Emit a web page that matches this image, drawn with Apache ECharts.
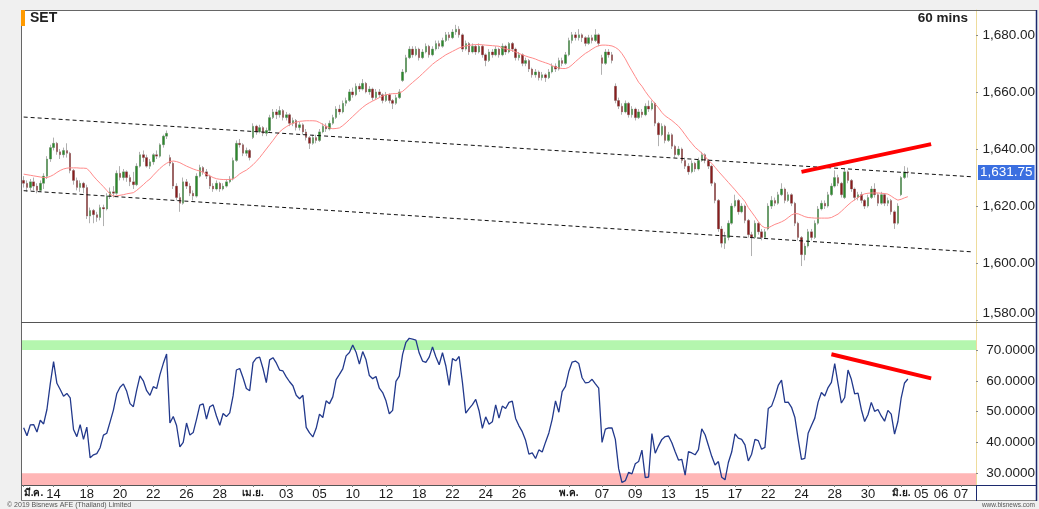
<!DOCTYPE html>
<html><head><meta charset="utf-8">
<script src="https://cdn.jsdelivr.net/npm/echarts@6/dist/echarts.min.js"></script>
<style>html,body{margin:0;padding:0;background:#f0f0f0;}#c{width:1039px;height:509px;}</style>
</head><body><div id="c"></div>
<script>
// trading days: [label, hourly bar slots, label shown]
const tradingDays = [
['มี.ค.',4,1],['13',5,0],['14',5,1],['15',5,0],['18',5,1],['19',5,0],['20',5,1],['21',5,0],['22',5,1],['25',5,0],['26',5,1],['27',5,0],['28',5,1],['29',5,0],
['เม.ย.',5,1],['02',5,0],['03',5,1],['04',5,0],['05',5,1],['09',5,0],['10',5,1],['11',5,0],['12',5,1],['17',5,0],['18',5,1],['19',5,0],['22',5,1],['23',5,0],['24',5,1],['25',5,0],['26',5,1],['29',5,0],['30',5,0],
['พ.ค.',5,1],['03',5,0],['07',5,1],['08',5,0],['09',5,1],['10',5,0],['13',5,1],['14',5,0],['15',5,1],['16',5,0],['17',5,1],['21',5,0],['22',5,1],['23',5,0],['24',5,1],['27',5,0],['28',5,1],['29',5,0],['30',5,1],['31',5,0],
['มิ.ย.',6,1],['05',6,1],['06',6,1],['07',5,1]
];
// [open, close, low, high]
const candles = [
[1629,1628,1626.5,1630.5],[1628,1626.5,1625,1629],[1626.5,1628.5,1625.5,1629.5],[1628.5,1627,1625.5,1630],[1627,1625.5,1624.5,1628],[1625.5,1628,1625,1629],[1628,1630.5,1626,1631.5],[1630.5,1636.5,1629.5,1637.5],[1636.5,1640.5,1635.5,1641.5],[1640.5,1642,1639.5,1644],
[1642,1639,1638,1642.5],[1639,1638,1636.5,1640],[1638,1639.5,1637,1640.5],[1639.5,1638.5,1637,1642],[1638.5,1632.5,1631.5,1639],[1632.5,1629,1627.5,1633],[1629,1626.5,1625.5,1630],[1626.5,1628,1625,1629],[1628,1626.5,1624.5,1628.5],[1626.5,1616.5,1615.5,1627.5],
[1616.5,1618.5,1614,1619.5],[1618.5,1617,1614,1619],[1617,1616,1614.5,1618],[1616,1619.5,1615,1620.5],[1619.5,1619,1613,1620.5],[1619,1623.5,1618.5,1624.5],[1623.5,1625,1622.5,1626.5],[1625,1624.5,1623,1627],[1624.5,1631.5,1624,1632.5],[1631.5,1630,1629,1634],
[1630,1632,1629,1633],[1632,1630,1628.5,1632.5],[1630,1628.5,1627,1631],[1628.5,1627.5,1626,1632],[1627.5,1634,1627,1635],[1634,1638,1633.5,1639],[1638,1637,1635.5,1639.5],[1637,1634,1633.5,1638],[1634,1635.5,1633,1636.5],[1635.5,1638,1634.5,1638.5],
[1638,1637.5,1636.5,1639.5],[1637.5,1641.5,1637,1642],[1641.5,1644.5,1640.5,1645],[1644.5,1645.5,1643.5,1646.5],[1637,1635,1634,1638],[1635,1627,1626,1635.5],[1627,1623,1622,1628],[1623,1621,1618,1624.5],[1621,1628.5,1620.5,1630],[1628.5,1627,1626,1629.5],
[1627,1624.5,1623.5,1628],[1624.5,1623.5,1622,1625.5],[1623.5,1630.5,1623,1631.5],[1630.5,1633.5,1630,1634.5],[1633.5,1632,1631,1634],[1632,1630.5,1629.5,1633],[1630.5,1627,1626,1631],[1627,1626,1625,1628],[1626,1628,1625.5,1629],[1628,1626,1625,1628.5],
[1626,1627,1625.5,1628],[1627,1628.5,1626.5,1629.5],[1628.5,1629.5,1628,1630.5],[1629.5,1636,1629,1637],[1636,1642,1635.5,1643],[1642,1641.5,1640.5,1643.5],[1641.5,1638.5,1637.5,1642],[1638.5,1639.5,1637.5,1640.5],[1639.5,1637,1636,1640],[1644,1648,1643.5,1649],
[1648,1646,1645,1648.5],[1646,1647.5,1645.5,1648.5],[1647.5,1645.5,1644.5,1648],[1645.5,1646.5,1644.5,1647.5],[1646.5,1651,1646,1652],[1651,1653,1650.5,1654],[1653,1652,1650.5,1654],[1652,1653.5,1651,1655],[1653.5,1651,1650,1654],[1651,1652,1650,1653],
[1652,1649,1648,1652.5],[1649,1650,1648,1651],[1650,1647.5,1646.5,1650.5],[1647.5,1648.5,1646.5,1649.5],[1648.5,1646,1645,1649],[1646,1644,1643,1647],[1644,1642,1640,1644.5],[1642,1644,1641.5,1645],[1644,1643,1642,1645],[1643,1646,1642.5,1647],
[1646,1648,1645.5,1649],[1648,1647,1646,1649],[1647,1649,1646.5,1650],[1649,1651,1648.5,1652],[1651,1654,1650.5,1655],[1654,1653,1652,1655.5],[1653,1656,1652.5,1657],[1656,1657,1655,1658],[1657,1660,1656.5,1661],[1660,1659,1658,1661.5],
[1659,1662,1658.5,1663],[1662,1661,1660,1663],[1661,1663,1660.5,1664.5],[1663,1660,1659.5,1663.5],[1660,1661,1659,1662],[1661,1658,1657,1661.5],[1658,1660,1657.5,1661],[1660,1659,1658,1661],[1659,1657,1656,1659.5],[1657,1659,1656.5,1660],
[1659,1657,1656,1659.5],[1657,1656,1654,1657.5],[1656,1658,1655.5,1659],[1658,1660,1657.5,1661],[1664,1667,1663.5,1668],[1667,1672,1666.5,1673],[1672,1675,1671.5,1676],[1675,1673,1672,1676],[1673,1675,1672.5,1676],[1675,1672,1671,1675.5],
[1672,1674,1671.5,1675],[1674,1676,1673.5,1677],[1676,1673,1672,1676.5],[1673,1675,1672.5,1676],[1675,1677,1674.5,1678],[1677,1676,1675,1678],[1676,1678,1675.5,1679],[1678,1680,1677.5,1681],[1680,1679,1678,1681],[1679,1681,1678.5,1682],
[1681,1682,1680,1683.5],[1682,1680,1679,1683],[1680,1675,1674,1680.5],[1675,1677,1674.5,1678],[1677,1674,1673,1677.5],[1674,1676,1673.5,1677],[1676,1674,1673,1676.5],[1674,1676,1673.5,1677],[1676,1673,1672,1676.5],[1673,1671,1669,1673.5],
[1671,1674,1670.5,1675],[1674,1673,1672,1675],[1673,1675,1672.5,1676],[1675,1673,1672,1675.5],[1673,1676,1672.5,1677],[1676,1674,1673,1676.5],[1674,1677,1673.5,1677.5],[1677,1675,1674,1677.5],[1675,1672,1671,1675.5],[1672,1673,1671,1674],
[1673,1670,1669,1673.5],[1670,1671,1669,1672],[1671,1668,1667,1671.5],[1668,1666,1665,1668.5],[1666,1667,1665,1668],[1667,1665,1664,1667.5],[1665,1666,1664,1667],[1666,1665,1663.5,1666.5],[1665,1667,1664.5,1668],[1667,1669,1666.5,1670],
[1669,1668,1667,1670],[1668,1671,1667.5,1672],[1671,1670,1669,1672],[1670,1673,1669.5,1674],[1673,1678,1672.5,1679],[1678,1680,1677,1681],[1680,1679,1678,1681],[1679,1680,1678,1682],[1680,1679,1677.5,1680.5],[1679,1677,1676,1679.5],
[1677,1679,1676.5,1680],[1679,1678,1677,1680],[1678,1680,1677.5,1682],[1680,1677,1676,1680.5],[1672,1670,1666,1673],[1670,1674,1669.5,1675],[1674,1673,1672,1675],[1673,1671,1670,1674],[1662,1657,1656,1663],[1657,1655,1654,1658],
[1655,1653,1652,1656],[1653,1656,1652.5,1657],[1656,1652,1651,1656.5],[1652,1654,1651,1655],[1654,1651,1650,1654.5],[1651,1653,1650.5,1654],[1653,1652,1651,1654],[1652,1655,1651.5,1656],[1655,1654,1653,1657],[1654,1656,1653.5,1657],
[1656,1649,1648,1656.5],[1649,1645,1641,1649.5],[1645,1648,1644.5,1649],[1648,1643,1642,1648.5],[1643,1645,1642.5,1646],[1645,1641,1640,1645.5],[1641,1638,1637,1641.5],[1638,1640,1637.5,1641],[1640,1636,1635,1640.5],[1636,1634,1633,1637],
[1634,1632,1631,1635],[1632,1635,1631.5,1636],[1635,1633,1632,1635.5],[1633,1636,1632.5,1637],[1636,1638,1635.5,1639],[1638,1636,1635,1638.5],[1636,1634,1633,1636.5],[1634,1628,1627,1634.5],[1628,1622,1621,1628.5],[1622,1612,1611,1622.5],
[1612,1607,1605.5,1613],[1607,1609,1605,1611],[1609,1614,1608,1615],[1614,1620,1613.5,1621],[1620,1622,1619.5,1624],[1622,1618,1617,1622.5],[1618,1620,1617.5,1621],[1620,1615,1614,1620.5],[1615,1610,1609,1615.5],[1610,1609,1602.5,1611],
[1609,1614,1608.5,1615],[1614,1611,1610,1614.5],[1611,1609,1608,1612],[1609,1611,1608.5,1612],[1612,1620,1611.5,1621],[1620,1622,1619,1623.5],[1622,1621,1620,1623],[1621,1624,1620.5,1625],[1624,1626,1623.5,1628],[1626,1622,1621,1626.5],
[1622,1624,1621.5,1625],[1624,1621,1620,1624.5],[1621,1614,1613,1621.5],[1614,1609,1608,1614.5],[1609,1603,1599,1609.5],[1603,1606,1601,1607],[1606,1611,1605.5,1612],[1611,1609,1608,1612],[1609,1614,1608.5,1615],[1614,1619,1613.5,1620],
[1619,1621,1618.5,1622],[1621,1620,1619,1622],[1620,1624,1619.5,1625],[1624,1627,1623.5,1628],[1627,1630,1626.5,1632.5],[1630,1628,1627,1631],[1628,1624,1623,1628.5],[1623,1632,1622.5,1633],[1632,1629,1628,1632.5],[1629,1626,1625,1629.5],
[1626,1623,1622,1626.5],[1623,1624,1622,1625],[1624,1622,1621,1625],[1622,1620,1619,1622.5],[1620,1623,1619.5,1624],[1623,1626,1622.5,1627],[1626,1624,1623,1628],[1624,1621,1620,1624.5],[1621,1624,1620.5,1625],[1624,1621,1620,1624.5],
[1621,1622,1620,1623],[1622,1618,1617,1622.5],[1618,1614,1612,1618.5],[1614,1620,1613.5,1621],[1624,1630,1623.5,1630.5],[1630,1632,1629.5,1634],[1632,1631.75,1630,1633.5]
];
const maValues = [
1631.2,1631.0,1630.8,1630.6,1630.4,1630.2,1630.0,1630.0,1630.4,1631.0,
1631.8,1632.5,1633.0,1633.3,1633.4,1633.4,1633.4,1633.3,1633.3,1633.2,
1632.0,1630.5,1629.2,1628.0,1626.8,1625.5,1624.2,1623.5,1623.6,1623.8,
1624.0,1624.3,1624.5,1624.7,1625.5,1626.5,1627.5,1628.6,1629.5,1630.8,
1632.0,1633.2,1634.2,1635.0,1635.6,1635.8,1635.6,1635.2,1634.6,1634.0,
1633.5,1633.0,1632.6,1632.3,1631.8,1631.2,1630.6,1630.0,1629.6,1629.4,
1629.3,1629.3,1629.3,1629.5,1630.3,1631.3,1632.0,1632.6,1633.5,1634.5,
1635.7,1637.0,1638.5,1640.0,1641.5,1643.0,1644.6,1646.0,1647.0,1647.8,
1648.5,1649.0,1649.4,1649.7,1649.8,1649.9,1649.9,1649.9,1649.8,1649.3,
1648.6,1648.0,1647.4,1647.1,1647.2,1647.4,1648.2,1649.2,1650.3,1651.4,
1652.5,1653.6,1654.6,1655.5,1656.2,1656.8,1657.4,1658.0,1658.6,1659.0,
1659.2,1659.4,1659.4,1659.6,1660.2,1661.2,1662.3,1663.3,1664.3,1665.3,
1666.4,1667.5,1668.6,1669.7,1670.6,1671.4,1672.2,1673.0,1673.6,1674.2,
1674.8,1675.4,1675.8,1676.1,1676.3,1676.5,1676.6,1676.6,1676.5,1676.4,
1676.3,1676.2,1676.1,1676.0,1675.4,1675.1,1674.8,1674.5,1674.0,1673.5,
1673.0,1672.6,1672.2,1671.9,1671.5,1671.0,1670.6,1670.2,1669.8,1669.2,
1668.7,1668.4,1668.2,1668.2,1668.6,1669.5,1670.6,1671.6,1672.6,1673.5,
1674.2,1675.0,1675.7,1676.2,1676.4,1676.4,1676.3,1676.1,1675.6,1674.8,
1673.4,1671.6,1669.4,1667.4,1665.4,1663.4,1662.0,1660.2,1658.6,1657.2,
1655.8,1654.4,1652.8,1651.6,1650.8,1650.0,1649.0,1648.0,1646.6,1645.0,
1643.4,1642.0,1640.6,1639.6,1638.6,1637.4,1636.0,1635.0,1633.6,1632.2,
1630.9,1629.6,1628.3,1627.0,1625.7,1624.3,1623.0,1621.6,1619.5,1617.9,
1616.3,1614.6,1613.1,1612.4,1612.4,1613.0,1613.6,1614.0,1614.5,1615.1,
1616.0,1616.9,1617.4,1617.3,1616.8,1616.3,1616.0,1615.9,1615.8,1615.8,
1615.8,1615.8,1615.8,1616.0,1616.6,1617.2,1618.2,1619.3,1620.4,1621.4,
1622.2,1623.0,1623.8,1624.3,1624.5,1624.6,1624.6,1624.6,1624.5,1624.4,
1624.2,1623.5,1622.7,1622.1,1622.4,1622.9,1623.3
];
const rsiValues = [
44.8,42.2,45.7,45.8,43.4,47.2,46.0,50.7,59,66.2,
59.2,57.2,55,55.9,54.5,44.2,41.9,45.8,41,45,
35,36,36.4,38.3,42.4,43,46.7,50.5,55.8,57.9,
59,56.6,52.6,51.6,57,61.6,60,56.8,55.3,58.1,
57.5,62,65.6,68.7,46.3,48.4,45.5,38.6,40,46.3,
42.4,43.2,47.5,52.1,52.5,47.6,51.6,52.2,48.6,45.6,
49.4,48.4,49.6,55.1,63.5,64,61,57.5,56.8,65.9,
67.4,67.7,64,59.4,66.8,67.5,65.8,63.5,63.2,61.3,
59.7,58.4,55.3,54.2,55.3,44.9,43.1,41.8,44.6,49.2,
48.1,53.5,52.6,54.8,60.4,62.1,63.9,68.1,69.2,71.6,
69.3,65.4,69.5,66.8,61.7,60.7,61.4,57.6,56.2,53.5,
49.3,50.4,59.8,61.5,68.6,72.5,73.8,73.5,73.2,69,
66.4,66,67.7,71,67.8,65.2,69.1,64.9,58.5,67.2,
66.5,67.9,59.5,49.5,51,52.3,54,50.3,44.6,48.3,
45.9,46.7,52.2,47.9,51.8,51,53,53.4,47.8,45.4,
43.5,40.7,36.2,36.6,34.8,37.6,36.9,40.1,43.1,47.5,
53.5,49.8,56.5,58.2,63,66.1,66.4,65.6,61,59.3,
59.5,60.5,59,57.6,40,44.3,44.7,44.7,41,31.5,
27,27.6,30.3,29.8,33.1,33.8,37.5,28.6,28.8,42.9,
36.5,38.9,41,41.9,42.1,39.9,37,34.3,34.5,29.4,
37,36.6,36,37.7,44.4,42.5,39,35.5,32.7,33.8,
28.7,27.9,33.5,36.9,42.8,41.4,41,39.2,34,36.2,
41,40.6,37.8,38.4,51,51.8,54.8,58.5,60.2,53,
53.1,51.4,48.2,41.1,34.5,34.8,43,45.5,47.9,53.1,
56.2,55.1,57.8,59.5,65.6,59,52.8,54.6,63.5,60.5,
55.8,56,50.7,46.8,49,53,50.1,50.7,48.6,46.9,
50.4,49.2,42.7,46.8,54.5,59.3,60.6
];
const priceTicks = [1580,1600,1620,1640,1660,1680];
const rsiTicks = [30,40,50,60,70];
const priceRange = [1579.4,1688.7];
const rsiRange = [26.2,78.76];
const channelUpper = [[0,1651.2],[285,1630.3]];
const channelLower = [[0,1625.4],[285,1604.0]];
const priceTrend = [[234,1632.0],[273,1641.7]];
const rsiTrend = [[243,68.6],[273,60.8]];
const rsiBands = [[70,73.2],[26.2,30]];

const FONT = '"Liberation Sans", Arial, "Noto Sans", sans-serif';
const cats = [], catLabel = [], catShow = [];
tradingDays.forEach(([lab, n, show], d) => {
  for (let b = 0; b < n; b++) { cats.push(d + '_' + b); catLabel.push(b === 0 ? lab : ''); catShow.push(b === 0 && show === 1); }
});
const isThai = s => /[\u0E00-\u0E7F]/.test(s);
const fmt2 = v => v.toLocaleString('en-US', {minimumFractionDigits: 2, maximumFractionDigits: 2});
const lastClose = candles[candles.length - 1][1];

const chart = echarts.init(document.getElementById('c'), null, {renderer: 'canvas', width: 1039, height: 509});
const dashed = {type: [4, 3], color: '#111', width: 1};
const option = {
  animation: false,
  backgroundColor: '#f0f0f0',
  textStyle: {fontFamily: FONT},
  title: [
    {text: 'SET', left: 30, top: 11, padding: 0, textStyle: {fontSize: 14, fontWeight: 'bold', color: '#222', fontFamily: FONT}},
    {text: '60 mins', right: 71, top: 11, padding: 0, textStyle: {fontSize: 13.5, fontWeight: 'bold', color: '#222', fontFamily: FONT}},
    {text: '© 2019 Bisnews AFE (Thailand) Limited', left: 7, top: 502, padding: 0, textStyle: {fontSize: 7, fontWeight: 'normal', color: '#555', fontFamily: FONT}},
    {text: 'www.bisnews.com', right: 4, top: 502, padding: 0, textStyle: {fontSize: 6.5, fontWeight: 'normal', color: '#555', fontFamily: FONT}}
  ],
  grid: [
    {left: 22, top: 10, width: 954, height: 312},
    {left: 22, top: 323, width: 954, height: 162}
  ],
  xAxis: [
    {type: 'category', gridIndex: 0, data: cats, boundaryGap: true, axisLine: {show: false}, axisTick: {show: false}, axisLabel: {show: false}, splitLine: {show: false}},
    {type: 'category', gridIndex: 1, data: cats, boundaryGap: true,
      axisLine: {show: true, lineStyle: {color: '#555'}},
      axisTick: {show: true, alignWithLabel: true, interval: (i) => catShow[i], length: 2, lineStyle: {color: '#777'}},
      axisLabel: {interval: (i) => catShow[i],
        formatter: (v, i) => isThai(catLabel[i]) ? '{th|' + catLabel[i] + '}' : catLabel[i],
        rich: {th: {fontSize: 10, fontWeight: 'bold', color: '#1a1a1a', fontFamily: FONT}},
        fontSize: 13, color: '#1a1a1a', margin: 3,
        showMinLabel: true, showMaxLabel: true, alignMinLabel: 'left', hideOverlap: false, fontFamily: FONT},
      splitLine: {show: false}}
  ],
  yAxis: [
    {type: 'value', gridIndex: 0, position: 'right', min: priceRange[0], max: priceRange[1], splitLine: {show: false},
      axisLine: {show: true, lineStyle: {color: '#eedc9c'}},
      axisTick: {show: true, length: 2, lineStyle: {color: '#888'}, customValues: priceTicks},
      axisLabel: {customValues: priceTicks, formatter: fmt2, align: 'right', margin: 59, fontSize: 13.5, color: '#222', verticalAlignMinLabel: 'bottom', fontFamily: FONT}},
    {type: 'value', gridIndex: 1, position: 'right', min: rsiRange[0], max: rsiRange[1], splitLine: {show: false},
      axisLine: {show: true, lineStyle: {color: '#eedc9c'}},
      axisTick: {show: true, length: 2, lineStyle: {color: '#888'}, customValues: rsiTicks},
      axisLabel: {customValues: rsiTicks, formatter: v => v.toFixed(4), align: 'right', margin: 59, fontSize: 13.5, color: '#222', fontFamily: FONT}}
  ],
  graphic: [
    {type: 'rect', z: -10, shape: {x: 21, y: 10, width: 1016, height: 491}, style: {fill: '#fff'}},
    {type: 'line', z: 10, shape: {x1: 21, y1: 10.5, x2: 1037, y2: 10.5}, style: {stroke: '#666', lineWidth: 1}},
    {type: 'line', z: 10, shape: {x1: 21.5, y1: 10, x2: 21.5, y2: 501}, style: {stroke: '#666', lineWidth: 1}},
    {type: 'line', z: 10, shape: {x1: 21, y1: 322.5, x2: 1037, y2: 322.5}, style: {stroke: '#555', lineWidth: 1}},
    {type: 'line', z: 10, shape: {x1: 21, y1: 500.5, x2: 1037, y2: 500.5}, style: {stroke: '#888', lineWidth: 1}},
    {type: 'line', z: 10, shape: {x1: 1036.5, y1: 10, x2: 1036.5, y2: 501}, style: {stroke: '#1c2a6e', lineWidth: 1.5}},
    {type: 'line', z: 10, shape: {x1: 976.5, y1: 485, x2: 976.5, y2: 501}, style: {stroke: '#1c2a6e', lineWidth: 1}},
    {type: 'line', z: 10, shape: {x1: 976, y1: 485.5, x2: 1037, y2: 485.5}, style: {stroke: '#1c2a6e', lineWidth: 1}},
    {type: 'rect', z: 11, shape: {x: 21, y: 10, width: 4, height: 16}, style: {fill: '#ff9a00'}}
  ],
  series: [
    {type: 'candlestick', name: 'shadow', xAxisIndex: 0, yAxisIndex: 0, data: candles, barWidth: 2, z: 2,
      itemStyle: {color: '#b0b0b0', color0: '#b0b0b0', borderColor: '#b0b0b0', borderColor0: '#b0b0b0', borderWidth: 1}},
    {type: 'candlestick', name: 'body', xAxisIndex: 0, yAxisIndex: 0, z: 3, barWidth: 2,
      data: candles.map(([o, c]) => [o, c, Math.min(o, c), Math.max(o, c)]),
      itemStyle: {color: '#2b8a2b', color0: '#8a1c1c', borderColor: '#2b8a2b', borderColor0: '#8a1c1c', borderWidth: 0}},
    {type: 'line', name: 'MA', xAxisIndex: 0, yAxisIndex: 0, data: maValues, symbol: 'none', z: 4,
      lineStyle: {color: '#ff8a8a', width: 1},
      markLine: {symbol: ['none', 'none'], silent: true, animation: false, label: {show: false},
        data: [
          [{coord: channelUpper[0], lineStyle: dashed}, {coord: channelUpper[1]}],
          [{coord: channelLower[0], lineStyle: dashed}, {coord: channelLower[1]}],
          [{coord: priceTrend[0], lineStyle: {type: 'solid', color: '#ff0000', width: 4}}, {coord: priceTrend[1]}]
        ]}},
    {type: 'line', name: 'RSI', xAxisIndex: 1, yAxisIndex: 1, data: rsiValues, symbol: 'none', z: 4,
      lineStyle: {color: '#22398c', width: 1.3},
      markArea: {silent: true, data: [
        [{yAxis: rsiBands[0][0], itemStyle: {color: '#b4f6ae'}}, {yAxis: rsiBands[0][1]}],
        [{yAxis: rsiBands[1][0], itemStyle: {color: '#ffb6b6'}}, {yAxis: rsiBands[1][1]}]
      ]},
      markLine: {symbol: ['none', 'none'], silent: true, label: {show: false},
        data: [[{coord: rsiTrend[0], lineStyle: {type: 'solid', color: '#ff0000', width: 4}}, {coord: rsiTrend[1]}]]}}
  ]
};
chart.setOption(option);
const yLast = chart.convertToPixel({yAxisIndex: 0}, lastClose);
chart.setOption({graphic: option.graphic.concat([
  {type: 'text', z: 12, x: 978, y: yLast, style: {text: fmt2(lastClose), fill: '#fff', backgroundColor: '#3b6fe0', padding: [1, 2, 0, 2], font: '13.5px ' + FONT, verticalAlign: 'middle', align: 'left'}}
])});
</script></body></html>
